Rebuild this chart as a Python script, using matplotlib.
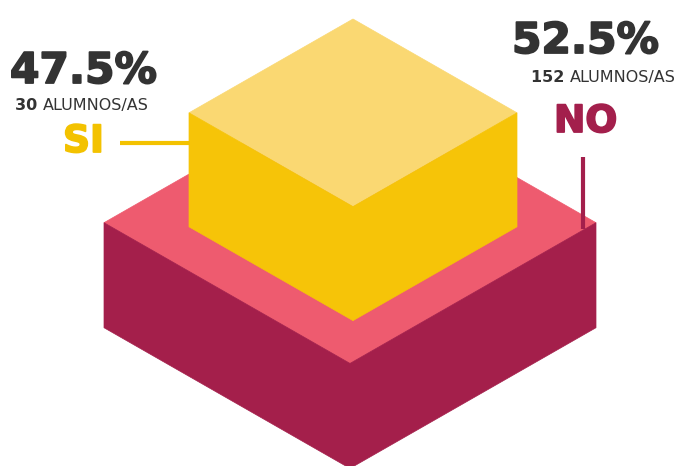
import numpy as np
import matplotlib
matplotlib.use('Agg')
import matplotlib.pyplot as plt
from matplotlib.patches import Polygon
import matplotlib.patheffects as pe

# data
labels = ['SI', 'NO']
pcts = [47.5, 52.5]
counts = [30, 152]
label_colors = ['#F3C200', '#A31F4C']

# box geometry (pixels): center x, back corner y, half width, height
K = 0.572
boxes = {
    'NO': dict(cx=350, yb=82, w=246, h=105, top='#EE5B6F', side='#A41F4B'),
    'SI': dict(cx=353, yb=19, w=164, h=114, top='#FAD872', side='#F6C408'),
}

fig = plt.figure(figsize=(6.95, 4.66), dpi=100)
ax = fig.add_axes([0, 0, 1, 1])
ax.set_xlim(0, 695)
ax.set_ylim(466, 0)
ax.axis('off')


def iso_box(ax, cx, yb, w, h, top, side, z):
    back = (cx, yb)
    left = (cx - w, yb + w * K)
    right = (cx + w, yb + w * K)
    front = (cx, yb + 2 * w * K)
    # top face
    ax.add_patch(Polygon([back, right, front, left], closed=True,
                         facecolor=top, edgecolor=top, lw=0.5, zorder=z))
    # left face
    ax.add_patch(Polygon([left, front, (front[0], front[1] + h), (left[0], left[1] + h)],
                         closed=True, facecolor=side, edgecolor=side, lw=0.5, zorder=z))
    # right face
    ax.add_patch(Polygon([front, right, (right[0], right[1] + h), (front[0], front[1] + h)],
                         closed=True, facecolor=side, edgecolor=side, lw=0.5, zorder=z))


iso_box(ax, z=1, **boxes['NO'])
iso_box(ax, z=2, **boxes['SI'])

font = 'DejaVu Sans'
dark = '#333333'


def heavy(c):
    # thicken the bold glyphs a little
    return [pe.withStroke(linewidth=1.3, foreground=c)]


# SI labels
ax.text(10, 83, f'{pcts[0]:.1f}%', fontsize=30.5, fontweight='bold', family=font,
        color=dark, ha='left', va='baseline', path_effects=heavy(dark))
ax.text(63, 152, labels[0], fontsize=27, fontweight='bold', family=font,
        color=label_colors[0], ha='left', va='baseline', path_effects=heavy(label_colors[0]))
ax.plot([120, 190], [143, 143], color=label_colors[0], lw=3, solid_capstyle='butt', zorder=3)

# NO labels
ax.text(512, 53, f'{pcts[1]:.1f}%', fontsize=30.5, fontweight='bold', family=font,
        color=dark, ha='left', va='baseline', path_effects=heavy(dark))
ax.text(554, 132, labels[1], fontsize=27, fontweight='bold', family=font,
        color=label_colors[1], ha='left', va='baseline', path_effects=heavy(label_colors[1]))
ax.plot([583, 583], [157, 229], color=label_colors[1], lw=3, solid_capstyle='butt', zorder=3)

# counts: bold number + regular words
renderer = fig.canvas.get_renderer()
for x0, y0, n in [(15, 110, counts[0]), (531, 82, counts[1])]:
    t = ax.text(x0, y0, f'{n} ', fontsize=11.5, fontweight='bold', family=font,
                color=dark, ha='left', va='baseline')
    bb = t.get_window_extent(renderer).transformed(ax.transData.inverted())
    ax.text(bb.x1, y0, 'ALUMNOS/AS', fontsize=11.5, family=font,
            color=dark, ha='left', va='baseline')

fig.savefig('out.png', dpi=100, facecolor='white')
